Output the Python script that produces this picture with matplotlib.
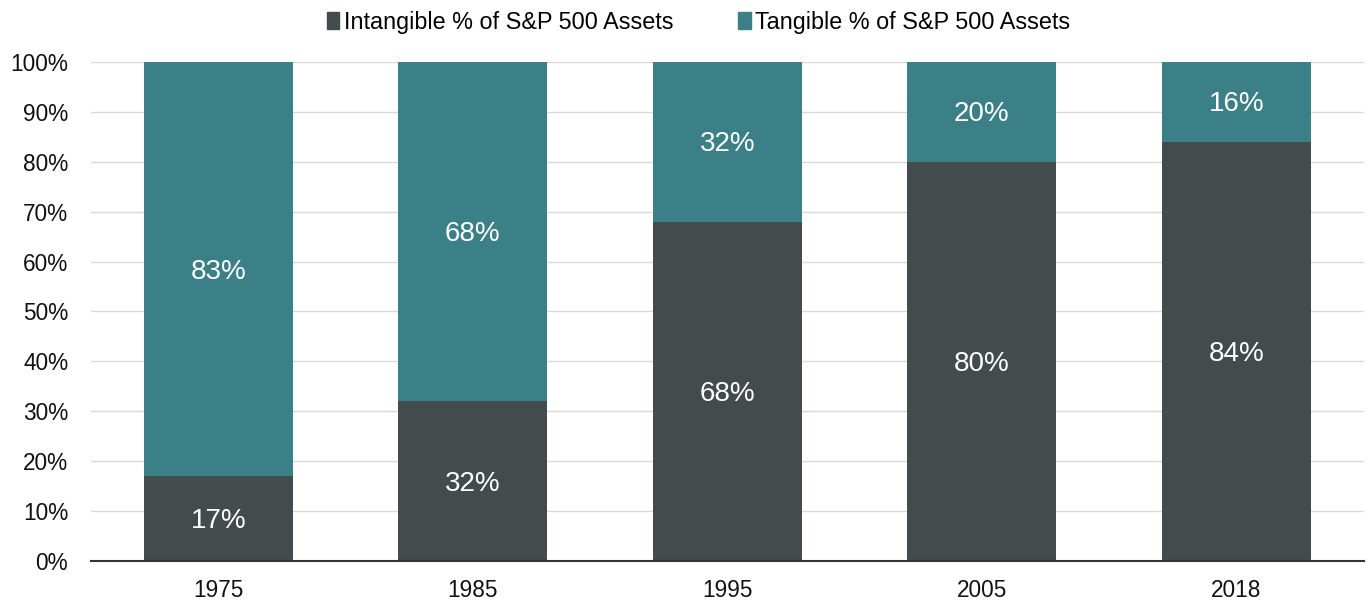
import matplotlib.pyplot as plt
from matplotlib.patches import Patch
from matplotlib import ticker

years = ['1975', '1985', '1995', '2005', '2018']
intangible = [17, 32, 68, 80, 84]
tangible = [83, 68, 32, 20, 16]

DARK = '#434b4d'
TEAL = '#3b7f87'

plt.rcParams['font.family'] = ['Liberation Sans', 'DejaVu Sans']

fig = plt.figure(figsize=(13.67, 6.04), dpi=100)
ax = fig.add_axes([0.0666, 0.0712, 0.931, 0.8262])

x = range(len(years))
ax.bar(x, intangible, width=0.585, color=DARK, zorder=2)
ax.bar(x, tangible, width=0.585, bottom=intangible, color=TEAL, zorder=2)

for i in x:
    ax.text(i, intangible[i] / 2 - 0.5, f'{intangible[i]}%', ha='center', va='center',
            color='white', fontsize=20)
    ax.text(i, intangible[i] + tangible[i] / 2 - 0.5, f'{tangible[i]}%', ha='center',
            va='center', color='white', fontsize=20)

ax.set_xlim(-0.5, len(years) - 0.5)
ax.set_ylim(0, 100)
ax.set_xticks(list(x))
ax.set_xticklabels(years)
ax.set_yticks(range(0, 101, 10))
ax.yaxis.set_major_formatter(ticker.FuncFormatter(lambda v, _: f'{int(v)}%'))
ax.tick_params(axis='both', length=0, labelsize=16.3, colors='#111111')
ax.tick_params(axis='x', pad=13)
ax.tick_params(axis='y', pad=16.5)
ax.grid(axis='y', color='#d9d9d9', linewidth=1, zorder=0)
for side in ['top', 'right', 'left']:
    ax.spines[side].set_visible(False)
ax.spines['bottom'].set_color('#333333')
ax.spines['bottom'].set_linewidth(1.5)
ax.spines['bottom'].set_zorder(3)

handles = [Patch(color=DARK, label='Intangible % of S&P 500 Assets'),
           Patch(color=TEAL, label='Tangible % of S&P 500 Assets')]
fig.legend(handles=handles, loc='upper center', bbox_to_anchor=(0.511, 1.017), ncol=2,
           frameon=False, fontsize=16.8, handlelength=0.55, handleheight=0.75,
           handletextpad=0.2, columnspacing=2.75)

fig.savefig('out.png', dpi=100)
